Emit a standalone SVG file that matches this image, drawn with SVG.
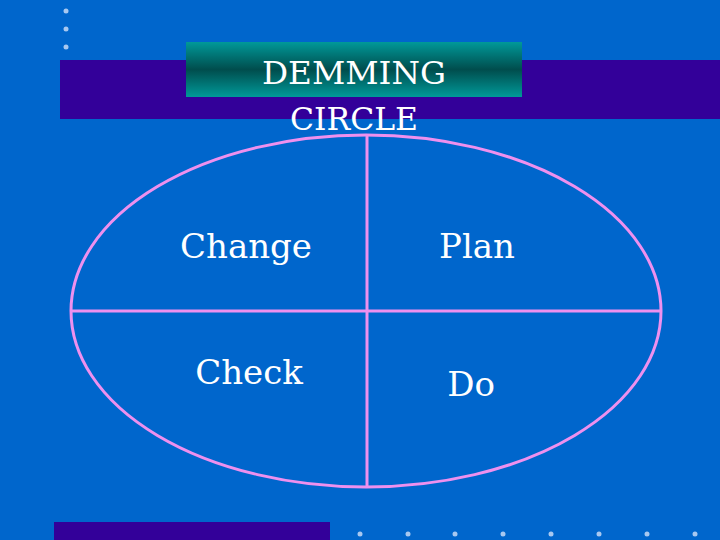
<svg xmlns="http://www.w3.org/2000/svg" width="720" height="540" viewBox="0 0 720 540">
<defs>
<linearGradient id="g" x1="0" y1="0" x2="0" y2="1">
<stop offset="0" stop-color="#009999"/><stop offset="0.5" stop-color="#004d4d"/><stop offset="1" stop-color="#009999"/>
</linearGradient>
<style>
.d{fill:#a8c8f0}
.t{font-family:"DejaVu Serif","Liberation Serif",serif;fill:#fff;font-size:32px;text-anchor:middle}
.l{font-family:"DejaVu Serif","Liberation Serif",serif;fill:#fff;font-size:34px;text-anchor:middle}
.c{fill:none;stroke:#ee90ee;stroke-width:3}
</style>
</defs>
<rect width="720" height="540" fill="#0066cc"/>
<rect x="60" y="60" width="660" height="59" fill="#330099"/>
<rect x="54" y="522" width="276" height="18" fill="#330099"/>
<g>
<circle class="d" cx="66" cy="11" r="2.5"/><circle class="d" cx="66" cy="29" r="2.5"/><circle class="d" cx="66" cy="47" r="2.5"/>
<circle class="d" cx="360" cy="534" r="2.5"/><circle class="d" cx="408" cy="534" r="2.5"/><circle class="d" cx="455" cy="534" r="2.5"/><circle class="d" cx="503" cy="534" r="2.5"/><circle class="d" cx="551" cy="534" r="2.5"/><circle class="d" cx="599" cy="534" r="2.5"/><circle class="d" cx="647" cy="534" r="2.5"/><circle class="d" cx="695" cy="534" r="2.5"/>
</g>
<g id="title">
<rect x="186" y="42" width="336" height="55" fill="url(#g)"/>
<text class="t" x="354" y="84" textLength="184" lengthAdjust="spacingAndGlyphs">DEMMING</text>
<text class="t" x="354" y="130" textLength="128" lengthAdjust="spacingAndGlyphs">CIRCLE</text>
</g>
<g id="connectors">
<ellipse class="c" cx="366" cy="311" rx="295" ry="176"/>
<line class="c" x1="367" y1="135" x2="367" y2="486"/>
<line class="c" x1="71" y1="311" x2="661" y2="311"/>
</g>
<g id="change"><text class="l" x="246" y="258">Change</text></g>
<g id="plan"><text class="l" x="477" y="258">Plan</text></g>
<g id="check"><text class="l" x="249" y="384">Check</text></g>
<g id="do"><text class="l" x="471" y="396">Do</text></g>
</svg>
